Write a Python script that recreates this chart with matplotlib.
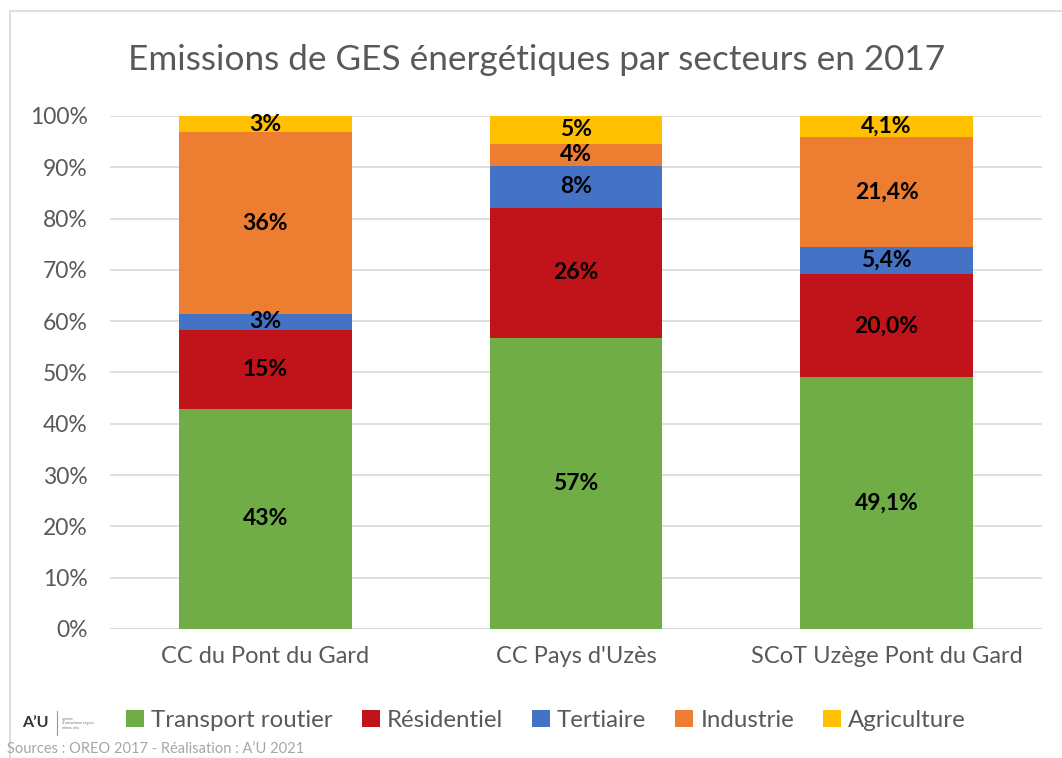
import numpy as np
import matplotlib

matplotlib.use("Agg")
import matplotlib.pyplot as plt
from matplotlib.patches import Rectangle

# ---- data -------------------------------------------------------------------
territoires = ["CC du Pont du Gard", "CC Pays d'Uzès", "SCoT Uzège Pont du Gard"]
secteurs = ["Transport routier", "Résidentiel", "Tertiaire", "Industrie", "Agriculture"]

transport = [42.9, 56.7, 49.1]
residentiel = [15.4, 25.4, 20.0]
tertiaire = [3.1, 8.2, 5.4]
industrie = [35.4, 4.3, 21.4]
agriculture = [3.2, 5.4, 4.1]

lbl_transport = ["43%", "57%", "49,1%"]
lbl_residentiel = ["15%", "26%", "20,0%"]
lbl_tertiaire = ["3%", "8%", "5,4%"]
lbl_industrie = ["36%", "4%", "21,4%"]
lbl_agriculture = ["3%", "5%", "4,1%"]

colors = ["#70AD47", "#C0141A", "#4472C4", "#ED7D31", "#FFC000"]

FONT = ["Lato", "DejaVu Sans"]
plt.rcParams["font.family"] = FONT
GREY = "#595959"

fig = plt.figure(figsize=(10.62, 7.58), dpi=100)
ax = fig.add_axes([0.1036, 0.1702, 0.8774, 0.6768])

series = [transport, residentiel, tertiaire, industrie, agriculture]
labels = [lbl_transport, lbl_residentiel, lbl_tertiaire, lbl_industrie,
          lbl_agriculture]
x = np.arange(len(territoires))
bottom = np.zeros(len(territoires))
for name, vals, lbls, col in zip(secteurs, series, labels, colors):
    vals = np.array(vals)
    ax.bar(x, vals, 0.555, bottom=bottom, color=col, label=name, zorder=2)
    for xi, b, v, t in zip(x, bottom, vals, lbls):
        ax.text(xi, b + v / 2, t, ha="center", va="center", fontsize=16.5,
                fontweight="bold", color="black", zorder=3)
    bottom += vals

ax.set_xlim(-0.5, 2.5)
ax.set_ylim(0, 100)
ax.set_yticks(np.arange(0, 101, 10))
ax.set_yticklabels([f"{v}%" for v in range(0, 101, 10)])
ax.set_xticks(x)
ax.set_xticklabels(territoires)
ax.tick_params(axis="y", length=0, labelsize=16.5, labelcolor=GREY, pad=16)
ax.tick_params(axis="x", length=0, labelsize=17, labelcolor=GREY, pad=12)
ax.grid(axis="y", color="#D9D9D9", linewidth=1.2, zorder=0)
for s in ax.spines.values():
    s.set_visible(False)
ax.axhline(0, color="#D9D9D9", linewidth=1.2, zorder=1)

fig.text(0.505, 0.921, "Emissions de GES énergétiques par secteurs en 2017",
         ha="center", va="center", fontsize=25.3, color=GREY)

ax.legend(loc="center", ncol=5, frameon=False, fontsize=17.3, handlelength=0.75,
          handleheight=0.75, handletextpad=0.3, columnspacing=1.2,
          labelcolor=GREY)
leg = ax.get_legend()
leg.set_bbox_to_anchor((0.514, 0.05), transform=fig.transFigure)

# outer frame of the chart
fig.patches.append(Rectangle((0.009, -0.01), 1.2, 0.996, transform=fig.transFigure,
                             fill=False, edgecolor="#D9D9D9", linewidth=1.2))

# logo and source line
fig.text(0.021, 0.046, "A’U", fontsize=11.5, fontweight="bold", color="#333333",
         va="center")
fig.add_artist(plt.Line2D([0.054, 0.054], [0.03, 0.062], transform=fig.transFigure,
                          color="#999999", linewidth=0.8))
fig.text(0.058, 0.046, "agence\nd'urbanisme région\nnîmes alès", fontsize=2.8,
         color="#777777", va="center", linespacing=1.2)
fig.text(0.007, 0.012, "Sources : OREO 2017 - Réalisation : A’U 2021",
         fontsize=10.5, color="#A6A6A6", va="center")

fig.savefig("out.png", dpi=100)
